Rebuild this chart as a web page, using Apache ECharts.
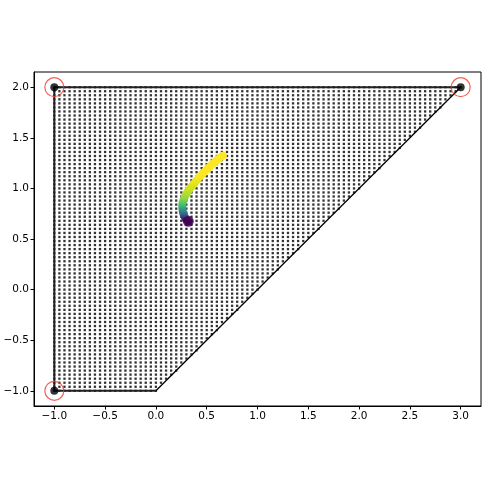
<!DOCTYPE html>
<html>
<head>
<meta charset="utf-8">
<script src="https://cdn.jsdelivr.net/npm/echarts@6/dist/echarts.min.js"></script>
<style>
  html, body { margin: 0; padding: 0; background: #fff; }
  #chart { width: 493px; height: 483px; }
</style>
</head>
<body>
<div id="chart"></div>
<script>
// axis ticks
const xTicks = [-1.0, -0.5, 0.0, 0.5, 1.0, 1.5, 2.0, 2.5, 3.0];
const yTicks = [-1.0, -0.5, 0.0, 0.5, 1.0, 1.5, 2.0];

// feasible region polygon (corners)
const polyX = [-1, 0, 3, -1];
const polyY = [-1, -1, 2, 2];
// marked corners
const cornerX = [-1, 3, -1];
const cornerY = [2, 2, -1];

// sampling grid inside the region
const gridStepX = 0.05;
const gridStepY = 0.04;

// optimisation path
const pathX = [0.319, 0.292, 0.272, 0.262, 0.260, 0.270, 0.290, 0.320, 0.357, 0.405, 0.455, 0.505, 0.555, 0.605, 0.658];
const pathY = [0.675, 0.705, 0.745, 0.790, 0.835, 0.880, 0.928, 0.978, 1.026, 1.085, 1.140, 1.192, 1.240, 1.283, 1.322];

const minus = v => v.toFixed(1).replace('-', '\u2212');

const gridPts = [];
for (let i = 0; i <= Math.round(4 / gridStepX); i++) {
    const x = -1 + i * gridStepX;
    for (let j = 0; j <= Math.round(3 / gridStepY); j++) {
        const y = -1 + j * gridStepY;
        if (y >= x - 1 - 1e-9) gridPts.push([x, y]);
    }
}

const chart = echarts.init(document.getElementById('chart'), null, { renderer: 'canvas' });

const edge = (a, b, w, c) => ({
    type: 'line',
    data: [[polyX[a], polyY[a]], [polyX[b], polyY[b]]],
    symbol: 'none',
    lineStyle: { color: c, width: w },
    z: 3,
    silent: true
});

const option = {
    animation: false,
    grid: {
        left: 34, right: 12, top: 72, bottom: 77,
        containLabel: false,
        show: true, borderColor: '#000', borderWidth: 1
    },
    xAxis: {
        type: 'value', min: -1.2, max: 3.2,
        axisLine: { show: true, onZero: false, lineStyle: { color: '#000' } },
        axisTick: { show: true, length: 3.5, customValues: xTicks, lineStyle: { color: '#000' } },
        axisLabel: {
            customValues: xTicks, formatter: minus, margin: 5,
            color: '#000', fontSize: 10.5, fontFamily: 'DejaVu Sans'
        },
        splitLine: { show: false }
    },
    yAxis: {
        type: 'value', min: -1.15, max: 2.15,
        axisLine: { show: true, onZero: false, lineStyle: { color: '#000' } },
        axisTick: { show: true, length: 3.5, customValues: yTicks, lineStyle: { color: '#000' } },
        axisLabel: {
            customValues: yTicks, formatter: minus, margin: 5,
            color: '#000', fontSize: 10.5, fontFamily: 'DejaVu Sans'
        },
        splitLine: { show: false }
    },
    visualMap: {
        show: false,
        type: 'continuous',
        seriesIndex: 5,
        dimension: 1,
        min: 0.675, max: 1.35,
        inRange: {
            color: ['#440154', '#31688e', '#35b779', '#90d743', '#c8e020', '#e5e419', '#fde725', '#fde725', '#fde725', '#fde725']
        }
    },
    series: [
        {
            type: 'scatter',
            data: gridPts,
            symbolSize: 2.3,
            itemStyle: { color: '#000' },
            large: true,
            largeThreshold: 1000,
            silent: true,
            z: 1
        },
        edge(3, 0, 2, '#222'),
        edge(0, 1, 2, '#222'),
        edge(1, 2, 1.3, '#000'),
        edge(2, 3, 2, '#222'),
        {
            type: 'line',
            data: pathX.map((x, i) => [x, pathY[i]]),
            smooth: true,
            symbol: 'none',
            lineStyle: { width: 8, cap: 'round' },
            z: 5,
            silent: true
        },
        {
            type: 'scatter',
            data: [[pathX[0], pathY[0]]],
            symbolSize: 11,
            itemStyle: { color: '#440154' },
            z: 6
        },
        {
            type: 'scatter',
            data: cornerX.map((x, i) => [x, cornerY[i]]),
            symbolSize: 8,
            itemStyle: { color: '#000' },
            z: 7
        },
        {
            type: 'scatter',
            data: cornerX.map((x, i) => [x, cornerY[i]]),
            symbolSize: 19,
            itemStyle: { color: 'none', borderColor: '#ef3b2c', borderWidth: 1.2 },
            z: 8
        }
    ]
};
chart.setOption(option);
</script>
</body>
</html>
